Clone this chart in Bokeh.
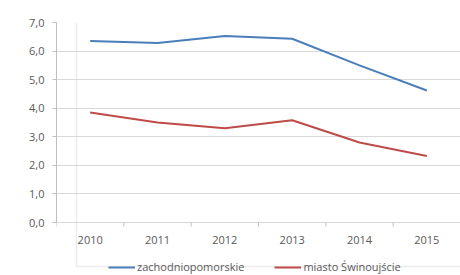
from bokeh.plotting import figure
from bokeh.models import Range1d, FixedTicker, CustomJSTickFormatter, Legend, LegendItem, BoxAnnotation
from bokeh.embed import file_html
from bokeh.resources import INLINE
from bokeh.core.properties import value

years = [2010, 2011, 2012, 2013, 2014, 2015]
year_labels = [str(y) for y in years]
zachodniopomorskie = [6.35, 6.28, 6.53, 6.43, 5.5, 4.62]
swinoujscie = [3.85, 3.5, 3.3, 3.58, 2.8, 2.33]
y_ticks = [0, 1, 2, 3, 4, 5, 6, 7]
series_names = ["zachodniopomorskie", "miasto Świnoujście"]

FONT = "Open Sans"
TXT = "#595959"
AX = "#bfbfbf"

# frame spans 22..275 px; value 0 sits at 222 px (200 px for 7 units)
y_low = -(275 - 222) / (200 / 7)

p = figure(width=460, height=275, output_backend="svg", toolbar_location=None,
           x_range=Range1d(years[0] - 0.5, years[-1] + 0.5),
           y_range=Range1d(y_low, y_ticks[-1]),
           x_axis_location=None,
           min_border_left=56, min_border_right=0, min_border_top=22, min_border_bottom=0)
p.outline_line_color = None
p.background_fill_color = "white"
p.border_fill_color = "white"

r1 = p.line(years, zachodniopomorskie, line_color="#4a7ebb", line_width=2)
r2 = p.line(years, swinoujscie, line_color="#be4b48", line_width=2)

# category axis along value 0: boundary ticks and year labels
bounds = [y - 0.5 for y in years] + [years[-1] + 0.5]
p.segment(x0=bounds, y0=[0] * len(bounds), x1=bounds, y1=[-0.14] * len(bounds),
          line_color=AX, line_width=1)
p.text(x=years, y=[0] * len(years), text=year_labels, y_offset=17,
       text_align="center", text_baseline="middle",
       text_font=value(FONT), text_font_size="11px", text_color=TXT)

ya = p.yaxis[0]
ya.ticker = FixedTicker(ticks=y_ticks)
ya.bounds = (y_ticks[0], y_ticks[-1])
ya.formatter = CustomJSTickFormatter(code="return tick.toFixed(1).replace('.', ',');")
ya.major_tick_out = 4
ya.major_tick_in = 0
ya.minor_tick_out = 0
ya.minor_tick_in = 0
ya.major_tick_line_color = AX
ya.axis_line_color = AX
ya.major_label_text_font = FONT
ya.major_label_text_font_size = "11px"
ya.major_label_text_color = TXT
ya.major_label_standoff = 8

p.xgrid.visible = False
p.ygrid.grid_line_color = "#d9d9d9"
p.ygrid.grid_line_width = 1
p.ygrid.ticker = FixedTicker(ticks=y_ticks)

legend = Legend(items=[LegendItem(label=series_names[0], renderers=[r1]),
                       LegendItem(label=series_names[1], renderers=[r2])],
                orientation="horizontal", location=(52, 1),
                label_text_font=FONT, label_text_font_size="11px", label_text_color=TXT,
                glyph_width=27, glyph_height=10, label_standoff=2, spacing=30,
                padding=0, margin=0, border_line_color=None, background_fill_alpha=0)
p.add_layout(legend, "center")

# chart area border (top-left corner of the chart box)
p.add_layout(BoxAnnotation(left=20, right=470, top=9, bottom=290,
                           left_units="screen", right_units="screen",
                           top_units="screen", bottom_units="screen",
                           fill_alpha=0, line_color="#c0c0c0", line_width=1.5))

open("out.html", "w").write(file_html(p, INLINE))
